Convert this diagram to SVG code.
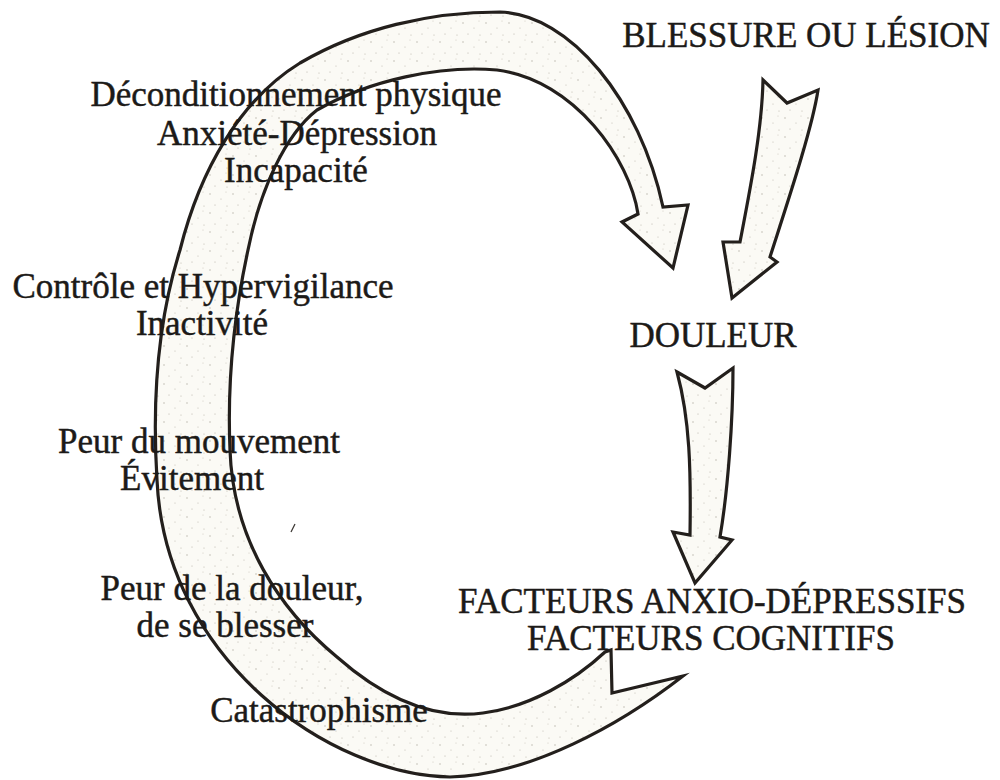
<svg xmlns="http://www.w3.org/2000/svg" width="1000" height="780" viewBox="0 0 1000 780">
  <style>
    .lbl { font-family: "Liberation Serif", "Times New Roman", serif; font-size: 35px; fill: #1c1a18; stroke: #1c1a18; stroke-width: 0.45; text-anchor: middle; }
    .arr { fill: url(#speckle); stroke: #231f1c; stroke-width: 3.2; stroke-linejoin: miter; stroke-miterlimit: 10; }
  </style>
  <defs>
    <pattern id="speckle" patternUnits="userSpaceOnUse" width="23" height="19">
      <rect width="23" height="19" fill="#fbfaf5"/>
      <circle cx="3" cy="4" r="0.7" fill="#b5b0a5"/>
      <circle cx="14" cy="9" r="0.6" fill="#c2bdb2"/>
      <circle cx="8" cy="15" r="0.5" fill="#aaa59a"/>
      <circle cx="19" cy="2" r="0.5" fill="#c8c3b8"/>
      <circle cx="20" cy="16" r="0.6" fill="#bdb8ad"/>
    </pattern>
  </defs>
  <rect width="1000" height="780" fill="#ffffff"/>

  <g id="connectors">
    <path id="cycle-arrow" class="arr" d="M683,676 C620,725 530,775 450,777 C330,775 165,660 157,480 C152,400 158,320 180,250 C200,170 240,100 300,63 C360,28 430,12 500,12 C570,14 640,100 663,207 L688,205 L673,268 L622,222 L638,214 C630,160 575,80 497,70 C440,65 370,80 317,110 C285,135 260,190 248,250 C235,310 227,380 230,450 C233,540 280,610 337,657 C380,695 430,720 483,713 C530,707 575,680 605,652 L611,650 L612,693 Z"/>
    <path id="arrow-blessure-douleur" class="arr" d="M763,80 L787,103 L818,90 C812,130 785,210 770,257 L777,262 L732,298 L723,242 L740,242 C750,190 762,130 763,80 Z"/>
    <path id="arrow-douleur-facteurs" class="arr" d="M677,372 L705,388 L733,368 C733,420 728,490 720,537 L732,540 L695,583 L673,532 L690,535 C691,470 690,420 677,372 Z"/>
  </g>

  <path d="M291,532 L295,524" stroke="#3a3632" stroke-width="1.2" fill="none"/>

  <g id="node-blessure"><text class="lbl" x="806" y="47">BLESSURE OU LÉSION</text></g>
  <g id="node-douleur"><text class="lbl" x="713" y="347">DOULEUR</text></g>
  <g id="node-facteurs">
    <text class="lbl" x="712" y="613">FACTEURS ANXIO-DÉPRESSIFS</text>
    <text class="lbl" x="711" y="650">FACTEURS COGNITIFS</text>
  </g>
  <g id="node-deconditionnement">
    <text class="lbl" x="296" y="106">Déconditionnement physique</text>
    <text class="lbl" x="297" y="145">Anxiété-Dépression</text>
    <text class="lbl" x="296" y="182">Incapacité</text>
  </g>
  <g id="node-controle">
    <text class="lbl" x="203" y="298">Contrôle et Hypervigilance</text>
    <text class="lbl" x="202" y="335">Inactivité</text>
  </g>
  <g id="node-peur-mouvement">
    <text class="lbl" x="199" y="453">Peur du mouvement</text>
    <text class="lbl" x="192" y="490">Évitement</text>
  </g>
  <g id="node-peur-douleur">
    <text class="lbl" x="232" y="600">Peur de la douleur,</text>
    <text class="lbl" x="225" y="637">de se blesser</text>
  </g>
  <g id="node-catastrophisme"><text class="lbl" x="319" y="722">Catastrophisme</text></g>
</svg>
